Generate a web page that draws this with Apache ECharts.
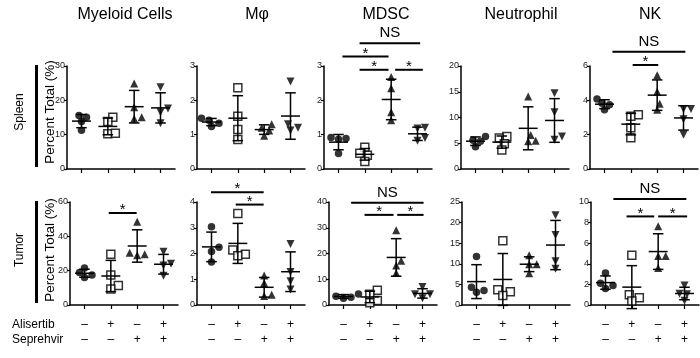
<!DOCTYPE html>
<html>
<head>
<meta charset="utf-8">
<script src="https://cdn.jsdelivr.net/npm/echarts@6/dist/echarts.min.js"></script>
<style>
  html, body { margin: 0; padding: 0; background: #fff; }
  #chart { width: 700px; height: 358px; }
</style>
</head>
<body>
<div id="chart"></div>
<script>
const cellTypes = ['Myeloid Cells', 'Mφ', 'MDSC', 'Neutrophil', 'NK']
const tissues = ['Spleen', 'Tumor']
const alisertib = ['–', '+', '–', '+']
const seprehvir = ['–', '–', '+', '+']

// percent of total, four mice per group: vehicle, alisertib, seprehvir, both
const spleenMyeloid = [[11.3, 15.6, 13.8, 15.1], [15.1, 13.8, 10.3, 10.4], [24.9, 18.0, 14.6, 15.1], [23.8, 17.6, 16.5, 13.3]]
const spleenMac = [[1.24, 1.33, 1.42, 1.48], [2.37, 1.54, 1.15, 0.86], [1.3, 1.2, 1.12, 0.97], [2.55, 1.3, 1.2, 1.12]]
const spleenMdsc = [[0.87, 0.92, 0.89, 0.45], [0.63, 0.46, 0.4, 0.22], [2.68, 2.35, 1.65, 1.42], [1.2, 1.18, 0.9, 0.82]]
const spleenNeut = [[6.3, 5.6, 5.4, 4.3], [6.3, 6.0, 4.9, 3.7], [14.1, 6.6, 5.4, 5.5], [14.7, 11.0, 5.7, 6.3]]
const spleenNk = [[4.08, 3.83, 3.74, 3.45], [3.16, 3.07, 2.4, 1.82], [5.46, 4.5, 3.8, 3.45], [3.5, 3.5, 2.9, 2.0]]
const tumorMyeloid = [[21.5, 19.0, 17.5, 16.0], [29.5, 17.5, 11.3, 9.3], [48.5, 30.5, 29.5, 29.0], [31.0, 24.0, 23.0, 17.0]]
const tumorMac = [[3.04, 2.24, 2.08, 1.67], [3.55, 2.14, 1.97, 1.91], [1.15, 0.85, 0.4, 0.35], [2.37, 1.28, 0.92, 0.6]]
const tumorMdsc = [[4.3, 3.4, 3.0, 2.6], [5.7, 4.2, 1.7, 0.9], [29.0, 17.2, 15.3, 12.4], [7.0, 4.2, 4.2, 2.6]]
const tumorNeut = [[11.8, 4.3, 3.5, 3.1], [15.6, 3.7, 3.2, 2.3], [12.1, 9.9, 9.9, 7.7], [21.8, 17.0, 10.6, 8.8]]
const tumorNk = [[3.1, 2.1, 1.9, 1.6], [4.84, 1.0, 0.7, 0.4], [7.65, 4.75, 4.75, 3.6], [1.9, 1.1, 1.05, 0.42]]

// y axis ranges
const spleenMax = [30, 3, 3, 20, 6]
const spleenStep = [10, 1, 1, 5, 2]
const tumorMax = [60, 4, 40, 25, 10]
const tumorStep = [20, 1, 10, 5, 2]

// significance bars: [from group, to group, height, label]
const spleenMdscSig = [[1.8, 4.1, 3.66, 'NS'], [1.15, 2.9, 3.28, '*'], [1.8, 2.9, 2.89, '*'], [3.15, 4.2, 2.89, '*']]
const spleenNkSig = [[1.3, 4.07, 6.83, 'NS'], [2.07, 3.04, 6.06, '*']]
const tumorMyeloidSig = [[1.92, 2.98, 53.6, '*']]
const tumorMacSig = [[0.98, 2.98, 4.38, '*'], [1.92, 2.98, 3.9, '*']]
const tumorMdscSig = [[1.29, 4.04, 39.7, 'NS'], [1.8, 2.9, 35, '*'], [3.04, 4.04, 35, '*']]
const tumorNkSig = [[1.3, 4.07, 10.3, 'NS'], [1.8, 2.85, 8.6, '*'], [3.0, 4.1, 8.6, '*']]

const panels = [
  { data: spleenMyeloid, max: spleenMax[0], step: spleenStep[0], sig: [] },
  { data: spleenMac, max: spleenMax[1], step: spleenStep[1], sig: [] },
  { data: spleenMdsc, max: spleenMax[2], step: spleenStep[2], sig: spleenMdscSig },
  { data: spleenNeut, max: spleenMax[3], step: spleenStep[3], sig: [] },
  { data: spleenNk, max: spleenMax[4], step: spleenStep[4], sig: spleenNkSig },
  { data: tumorMyeloid, max: tumorMax[0], step: tumorStep[0], sig: tumorMyeloidSig },
  { data: tumorMac, max: tumorMax[1], step: tumorStep[1], sig: tumorMacSig },
  { data: tumorMdsc, max: tumorMax[2], step: tumorStep[2], sig: tumorMdscSig },
  { data: tumorNeut, max: tumorMax[3], step: tumorStep[3], sig: [] },
  { data: tumorNk, max: tumorMax[4], step: tumorStep[4], sig: tumorNkSig },
]

// layout
const colLeft = [[67, 197, 324, 461, 590], [70, 197, 329, 462, 591]]
const rowTop = [66, 202]
const gridW = 108
const gridH = 103
const xMin = 0.45
const xMax = 4.55
const font = 'Liberation Sans, Arial, sans-serif'

const symbols = ['circle', 'rect', 'triangle', 'triangle']
const rotations = [0, 0, 0, 180]

// spread overlapping points sideways, like a column scatter
const swarm = (values, yPx, xPx) => {
  const placed = []
  const out = []
  const order = values.map((v, i) => i).sort((a, b) => values[a] - values[b])
  order.forEach((i) => {
    const y = values[i] * yPx
    for (let k = 0; k < 30; k++) {
      const dx = k === 0 ? 0 : (k % 2 ? 1 : -1) * Math.ceil(k / 2) * 2.5
      if (placed.every((p) => Math.hypot(p[0] - dx, p[1] - y) >= 6.5)) {
        placed.push([dx, y])
        out[i] = dx / xPx
        break
      }
    }
  })
  return out
}

const meanSd = (vals) => {
  const m = vals.reduce((a, b) => a + b, 0) / vals.length
  const v = vals.reduce((a, b) => a + (b - m) * (b - m), 0) / (vals.length - 1)
  return [m, Math.sqrt(v)]
}

const grid = []
const xAxis = []
const yAxis = []
const series = []

panels.forEach((p, idx) => {
  const row = idx < 5 ? 0 : 1
  const col = idx % 5
  grid.push({ left: colLeft[row][col], top: rowTop[row], width: gridW, height: gridH })
  xAxis.push({
    type: 'value', gridIndex: idx, min: xMin, max: xMax,
    splitLine: { show: false },
    axisLine: { lineStyle: { color: '#000', width: 1.5 } },
    axisTick: { show: true, customValues: [1, 2, 3, 4], length: 4, lineStyle: { color: '#000', width: 1.2 } },
    axisLabel: {
      show: row === 1,
      customValues: [1, 2, 3, 4],
      margin: 12,
      formatter: (v) => alisertib[Math.round(v) - 1] + '\n' + seprehvir[Math.round(v) - 1],
      color: '#000', fontSize: 12, lineHeight: 15, fontFamily: font,
    },
  })
  yAxis.push({
    type: 'value', gridIndex: idx, min: 0, max: p.max, interval: p.step,
    splitLine: { show: false },
    axisLine: { show: true, lineStyle: { color: '#000', width: 1.5 } },
    axisTick: { show: true, length: 3, lineStyle: { color: '#000', width: 1.2 } },
    axisLabel: { color: '#222', fontSize: 9, margin: 2, fontFamily: font },
  })

  const yPx = gridH / p.max
  const xPx = gridW / (xMax - xMin)
  p.data.forEach((vals, g) => {
    const off = swarm(vals, yPx, xPx)
    const hollow = symbols[g] === 'rect'
    series.push({
      type: 'scatter', xAxisIndex: idx, yAxisIndex: idx,
      symbol: symbols[g], symbolRotate: rotations[g],
      symbolSize: hollow ? 8 : (g === 0 ? 7.5 : 8),
      itemStyle: hollow
        ? { color: '#fff', borderColor: '#000', borderWidth: 1.5 }
        : { color: '#000' },
      data: vals.map((v, i) => [g + 1 + off[i], v]),
      z: 2,
    })
  })

  series.push({
    type: 'custom', xAxisIndex: idx, yAxisIndex: idx, clip: false, z: 3,
    data: p.data.map((vals, g) => [g + 1, ...meanSd(vals)]),
    renderItem: (params, api) => {
      const x = api.value(0)
      const m = api.value(1)
      const s = api.value(2)
      const c = api.coord([x, m])
      const t = api.coord([x, m + s])
      const b = api.coord([x, m - s])
      const unit = api.size([1, 0])[0]
      const mh = unit * 0.36
      const ch = unit * 0.2
      const st = { stroke: '#000', lineWidth: 1.5 }
      const ln = (x1, y1, x2, y2) => ({ type: 'line', shape: { x1, y1, x2, y2 }, style: st })
      return {
        type: 'group',
        children: [
          ln(c[0] - mh, c[1], c[0] + mh, c[1]),
          ln(c[0], t[1], c[0], b[1]),
          ln(c[0] - ch, t[1], c[0] + ch, t[1]),
          ln(c[0] - ch, b[1], c[0] + ch, b[1]),
        ],
      }
    },
  })

  if (p.sig.length) {
    series.push({
      type: 'custom', xAxisIndex: idx, yAxisIndex: idx, clip: false, z: 3,
      data: p.sig.map((s) => [s[0], s[1], s[2]]),
      renderItem: (params, api) => {
        const label = p.sig[params.dataIndex][3]
        const a = api.coord([api.value(0), api.value(2)])
        const b = api.coord([api.value(1), api.value(2)])
        const star = label === '*'
        return {
          type: 'group',
          children: [
            { type: 'line', shape: { x1: a[0], y1: a[1], x2: b[0], y2: a[1] }, style: { stroke: '#000', lineWidth: 2 } },
            {
              type: 'text',
              style: {
                text: label, x: (a[0] + b[0]) / 2, y: a[1] - (star ? 3 : 10),
                align: 'center', verticalAlign: 'middle',
                fontSize: 15, fontFamily: font, fill: '#000',
              },
            },
          ],
        }
      },
    })
  }
})

const titleX = [125, 257, 386, 521, 650]
const graphic = []
cellTypes.forEach((t, i) => {
  graphic.push({ type: 'text', x: titleX[i], y: 15, style: { text: t, fontSize: 16, fontFamily: font, fill: '#000', align: 'center', verticalAlign: 'middle' } })
})
const rowMid = [112, 250]
tissues.forEach((t, r) => {
  graphic.push({ type: 'text', x: 20, y: rowMid[r], rotation: Math.PI / 2, style: { text: t, fontSize: 12, fontFamily: font, fill: '#000', align: 'center', verticalAlign: 'middle' } })
  graphic.push({ type: 'rect', shape: { x: 35, y: rowTop[r] - 1, width: 3, height: 102 }, style: { fill: '#000' } })
  graphic.push({ type: 'text', x: 50, y: rowMid[r], rotation: Math.PI / 2, style: { text: 'Percent Total (%)', fontSize: 13.5, fontFamily: font, fill: '#000', align: 'center', verticalAlign: 'middle' } })
})
graphic.push({ type: 'text', x: 12, y: 325, style: { text: 'Alisertib', fontSize: 12, fontFamily: font, fill: '#000', verticalAlign: 'middle' } })
graphic.push({ type: 'text', x: 12, y: 340, style: { text: 'Seprehvir', fontSize: 12, fontFamily: font, fill: '#000', verticalAlign: 'middle' } })

const chart = echarts.init(document.getElementById('chart'), null, { renderer: 'canvas' })
chart.setOption({
  animation: false,
  backgroundColor: '#fff',
  grid, xAxis, yAxis, series, graphic,
})
</script>
</body>
</html>
